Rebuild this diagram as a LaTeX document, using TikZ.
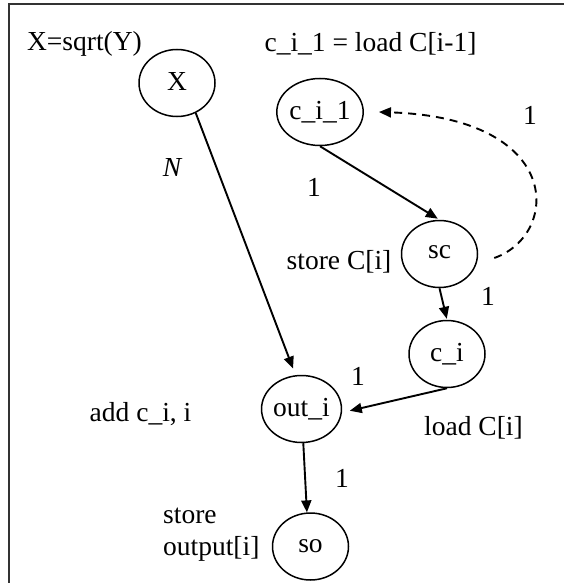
\documentclass[tikz,border=0pt]{standalone}
\usepackage{fontspec}
\setmainfont{Liberation Serif}
\usetikzlibrary{shapes.geometric,arrows.meta}
\begin{document}
\begin{tikzpicture}[x=1pt,y=-1pt,
  font=\fontsize{27.5}{32}\selectfont,
  opnode/.style={draw, ellipse, line width=1.5pt, minimum width=76pt,
    minimum height=67pt, inner sep=0pt},
  lbl/.style={inner sep=0pt},
  edge/.style={line width=1.9pt, -{Triangle[length=12pt,width=10pt]}},
  backedge/.style={edge, dashed, dash pattern=on 8pt off 6pt}]
\useasboundingbox (0,0) rectangle (564,583);
% frame
\draw[line width=2pt, black!80] (9,583) -- (9,4.5) -- (564,4.5);

% operation nodes
\node[opnode] (X)     at (177,83)     {\raisebox{3pt}{X}};
\node[opnode] (ci1)   at (320,112)    {c\_i\_1};
\node[opnode] (sc)    at (439.5,254)  {\raisebox{4pt}{sc}};
\node[opnode] (ci)    at (447,354)    {c\_i};
\node[opnode] (outi)  at (301.5,409)  {out\_i};
\node[opnode] (so)    at (310.5,546.5){so};

% annotations
\node[lbl] (tX)    at (84.5,44)  {X=sqrt(Y)};
\node[lbl] (tci1)  at (370.5,44) {c\_i\_1 = load C[i-1]};
\node[lbl] (tN)    at (172,167)  {\itshape N};
\node[lbl] (tsc)   at (339,262)  {store C[i]};
\node[lbl] (tadd)  at (140.5,414){add c\_i, i};
\node[lbl] (tload) at (473.5,428){load C[i]};
\node[lbl, anchor=west, align=left] (tso) at (163,535) {store\\output[i]};

% edge weights
\node[lbl] (w1) at (530,115) {1};
\node[lbl] (w2) at (314,187) {1};
\node[lbl] (w3) at (488,296) {1};
\node[lbl] (w4) at (358,376) {1};
\node[lbl] (w5) at (342,478) {1};

% dependences
\draw[edge, shorten >=7pt] (X.-58) -- (outi.100);
\draw[edge, shorten >=2pt] (ci1.south) -- (sc.north);
\draw[edge, shorten >=1pt] (sc.south) -- (ci.north);
\draw[edge, shorten >=8pt] (ci.south) -- (outi.-5);
\draw[edge] (outi.-87) -- (so.96);
\draw[backedge] ([xshift=16pt,yshift=-4pt]sc.east)
  .. controls (560,235) and (565,118) .. ([xshift=15pt]ci1.east);
\end{tikzpicture}
\end{document}
